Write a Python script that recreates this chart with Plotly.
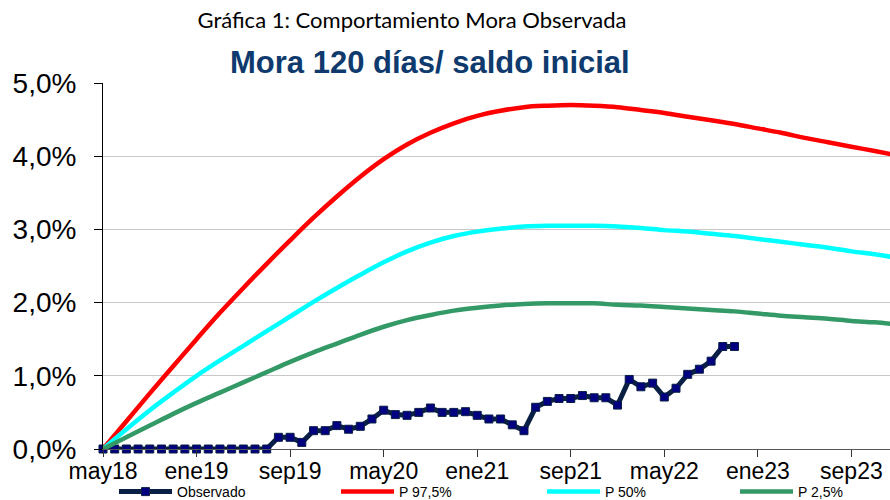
import plotly.graph_objects as go

# ---- data -------------------------------------------------------------
tick_months = [0, 8, 16, 24, 32, 40, 48, 56, 64]
tick_labels = ["may18", "ene19", "sep19", "may20", "ene21", "sep21", "may22", "ene23", "sep23"]

y_tickvals = [0, 1, 2, 3, 4, 5]
y_ticktext = ["0,0%", "1,0%", "2,0%", "3,0%", "4,0%", "5,0%"]

# projection curves (month index since may18, value in %)
proj_months = [0, 2, 4, 6, 8, 10, 12, 14, 16, 18, 20, 22, 24, 26, 28, 30, 32, 34,
               36, 38, 40, 42, 44, 46, 48, 50, 52, 54, 56, 58, 60, 62, 64, 66, 68]
p975 = [0.00, 0.38, 0.76, 1.13, 1.50, 1.86, 2.20, 2.53, 2.85, 3.16, 3.45, 3.72,
        3.96, 4.16, 4.32, 4.45, 4.55, 4.62, 4.67, 4.69, 4.70, 4.69, 4.67, 4.63,
        4.59, 4.54, 4.49, 4.44, 4.38, 4.32, 4.25, 4.19, 4.13, 4.07, 4.01]
p50 = [0.00, 0.27, 0.53, 0.77, 1.00, 1.21, 1.41, 1.61, 1.81, 2.01, 2.20, 2.38,
       2.55, 2.70, 2.82, 2.91, 2.97, 3.01, 3.04, 3.05, 3.05, 3.05, 3.04, 3.02,
       2.99, 2.97, 2.94, 2.91, 2.87, 2.83, 2.79, 2.75, 2.70, 2.66, 2.61]
p25 = [0.00, 0.16, 0.32, 0.48, 0.63, 0.77, 0.91, 1.05, 1.19, 1.32, 1.44, 1.56,
       1.67, 1.76, 1.83, 1.89, 1.93, 1.96, 1.98, 1.99, 1.99, 1.99, 1.97, 1.96,
       1.94, 1.92, 1.90, 1.88, 1.85, 1.82, 1.80, 1.78, 1.75, 1.73, 1.70]

obs_months = list(range(0, 55))
observado = [0, 0, 0, 0, 0, 0, 0, 0, 0, 0, 0, 0, 0, 0, 0,
             0.16, 0.16, 0.09, 0.25, 0.25, 0.32, 0.27, 0.31, 0.41, 0.53,
             0.47, 0.46, 0.50, 0.56, 0.50, 0.50, 0.51, 0.46, 0.41, 0.41,
             0.33, 0.25, 0.57, 0.65, 0.69, 0.69, 0.73, 0.70, 0.70, 0.60,
             0.95, 0.85, 0.90, 0.71, 0.83, 1.02, 1.09, 1.20, 1.40, 1.40]

# ---- figure -----------------------------------------------------------
W, H = 890, 500
L, T, B = 103, 83, 449    # plot area (left, top, bottom) in pixels

fig = go.Figure()

fig.add_trace(go.Scatter(
    x=obs_months, y=observado, name="Observado", mode="lines+markers",
    line=dict(color="#0A1F44", width=5),
    marker=dict(symbol="square", size=8, color="#000080",
                line=dict(color="#0A1F44", width=1)),
    cliponaxis=False, legend="legend2"))

fig.add_trace(go.Scatter(
    x=proj_months, y=p975, name="P 97,5%", mode="lines",
    line=dict(color="#FF0000", width=4.5, shape="spline"), legend="legend3"))
fig.add_trace(go.Scatter(
    x=proj_months, y=p50, name="P 50%", mode="lines",
    line=dict(color="#00FFFF", width=4.5, shape="spline"), legend="legend4"))
fig.add_trace(go.Scatter(
    x=proj_months, y=p25, name="P 2,5%", mode="lines",
    line=dict(color="#339966", width=4.5, shape="spline"), legend="legend5"))

leg_common = dict(orientation="h", xref="container", yref="container",
                  y=(H - 476) / H, yanchor="top", xanchor="left",
                  font=dict(family="Arial, Liberation Sans", size=14, color="#000000"),
                  bgcolor="rgba(0,0,0,0)", itemwidth=53)

fig.update_layout(
    width=W, height=H,
    margin=dict(l=L, r=0, t=T, b=H - B, autoexpand=False),
    paper_bgcolor="white", plot_bgcolor="white",
    font=dict(family="Arial, Liberation Sans", color="#000000"),
    title=dict(text="Gráfica 1: Comportamiento Mora Observada",
               font=dict(family="Lato", size=22, color="#000000"),
               xref="container", yref="container",
               x=412 / W, xanchor="center", y=1 - 20 / H, yanchor="middle",
               pad=dict(t=0, b=0, l=0, r=0)),
    showlegend=True,
    legend2=dict(x=114 / W, **leg_common),
    legend3=dict(x=336 / W, **leg_common),
    legend4=dict(x=542 / W, **leg_common),
    legend5=dict(x=735 / W, **leg_common),
    xaxis=dict(range=[0, 67.3], tickvals=tick_months, ticktext=tick_labels,
               showgrid=False, zeroline=False, showline=True, automargin=False,
               linecolor="#555555", linewidth=1,
               ticks="outside", ticklen=7, tickcolor="#333333",
               ticklabelstandoff=-6,
               tickfont=dict(size=23, color="#000000")),
    yaxis=dict(range=[0, 5], tickvals=y_tickvals, ticktext=y_ticktext,
               showgrid=True, gridcolor="#C8C8C8", gridwidth=1, automargin=False,
               zeroline=False, showline=True, linecolor="#000000", linewidth=1,
               ticks="outside", ticklen=8, tickcolor="#000000",
               ticklabelstandoff=12,
               tickfont=dict(size=28, color="#000000")),
    annotations=[dict(text="<b>Mora 120 días/ saldo inicial</b>",
                      xref="paper", yref="paper",
                      x=(430 - L) / (W - L), y=(B - 63) / (B - T),
                      xanchor="center", yanchor="middle", showarrow=False,
                      font=dict(family="Arial, Liberation Sans", size=31, color="#0E3A6E"))],
)

# remove the page's default body margin so the figure fills the window exactly
fig.write_html("out.html",
               config={"displayModeBar": False},
               post_script="document.body.style.margin='0';document.body.style.overflow='hidden';")
